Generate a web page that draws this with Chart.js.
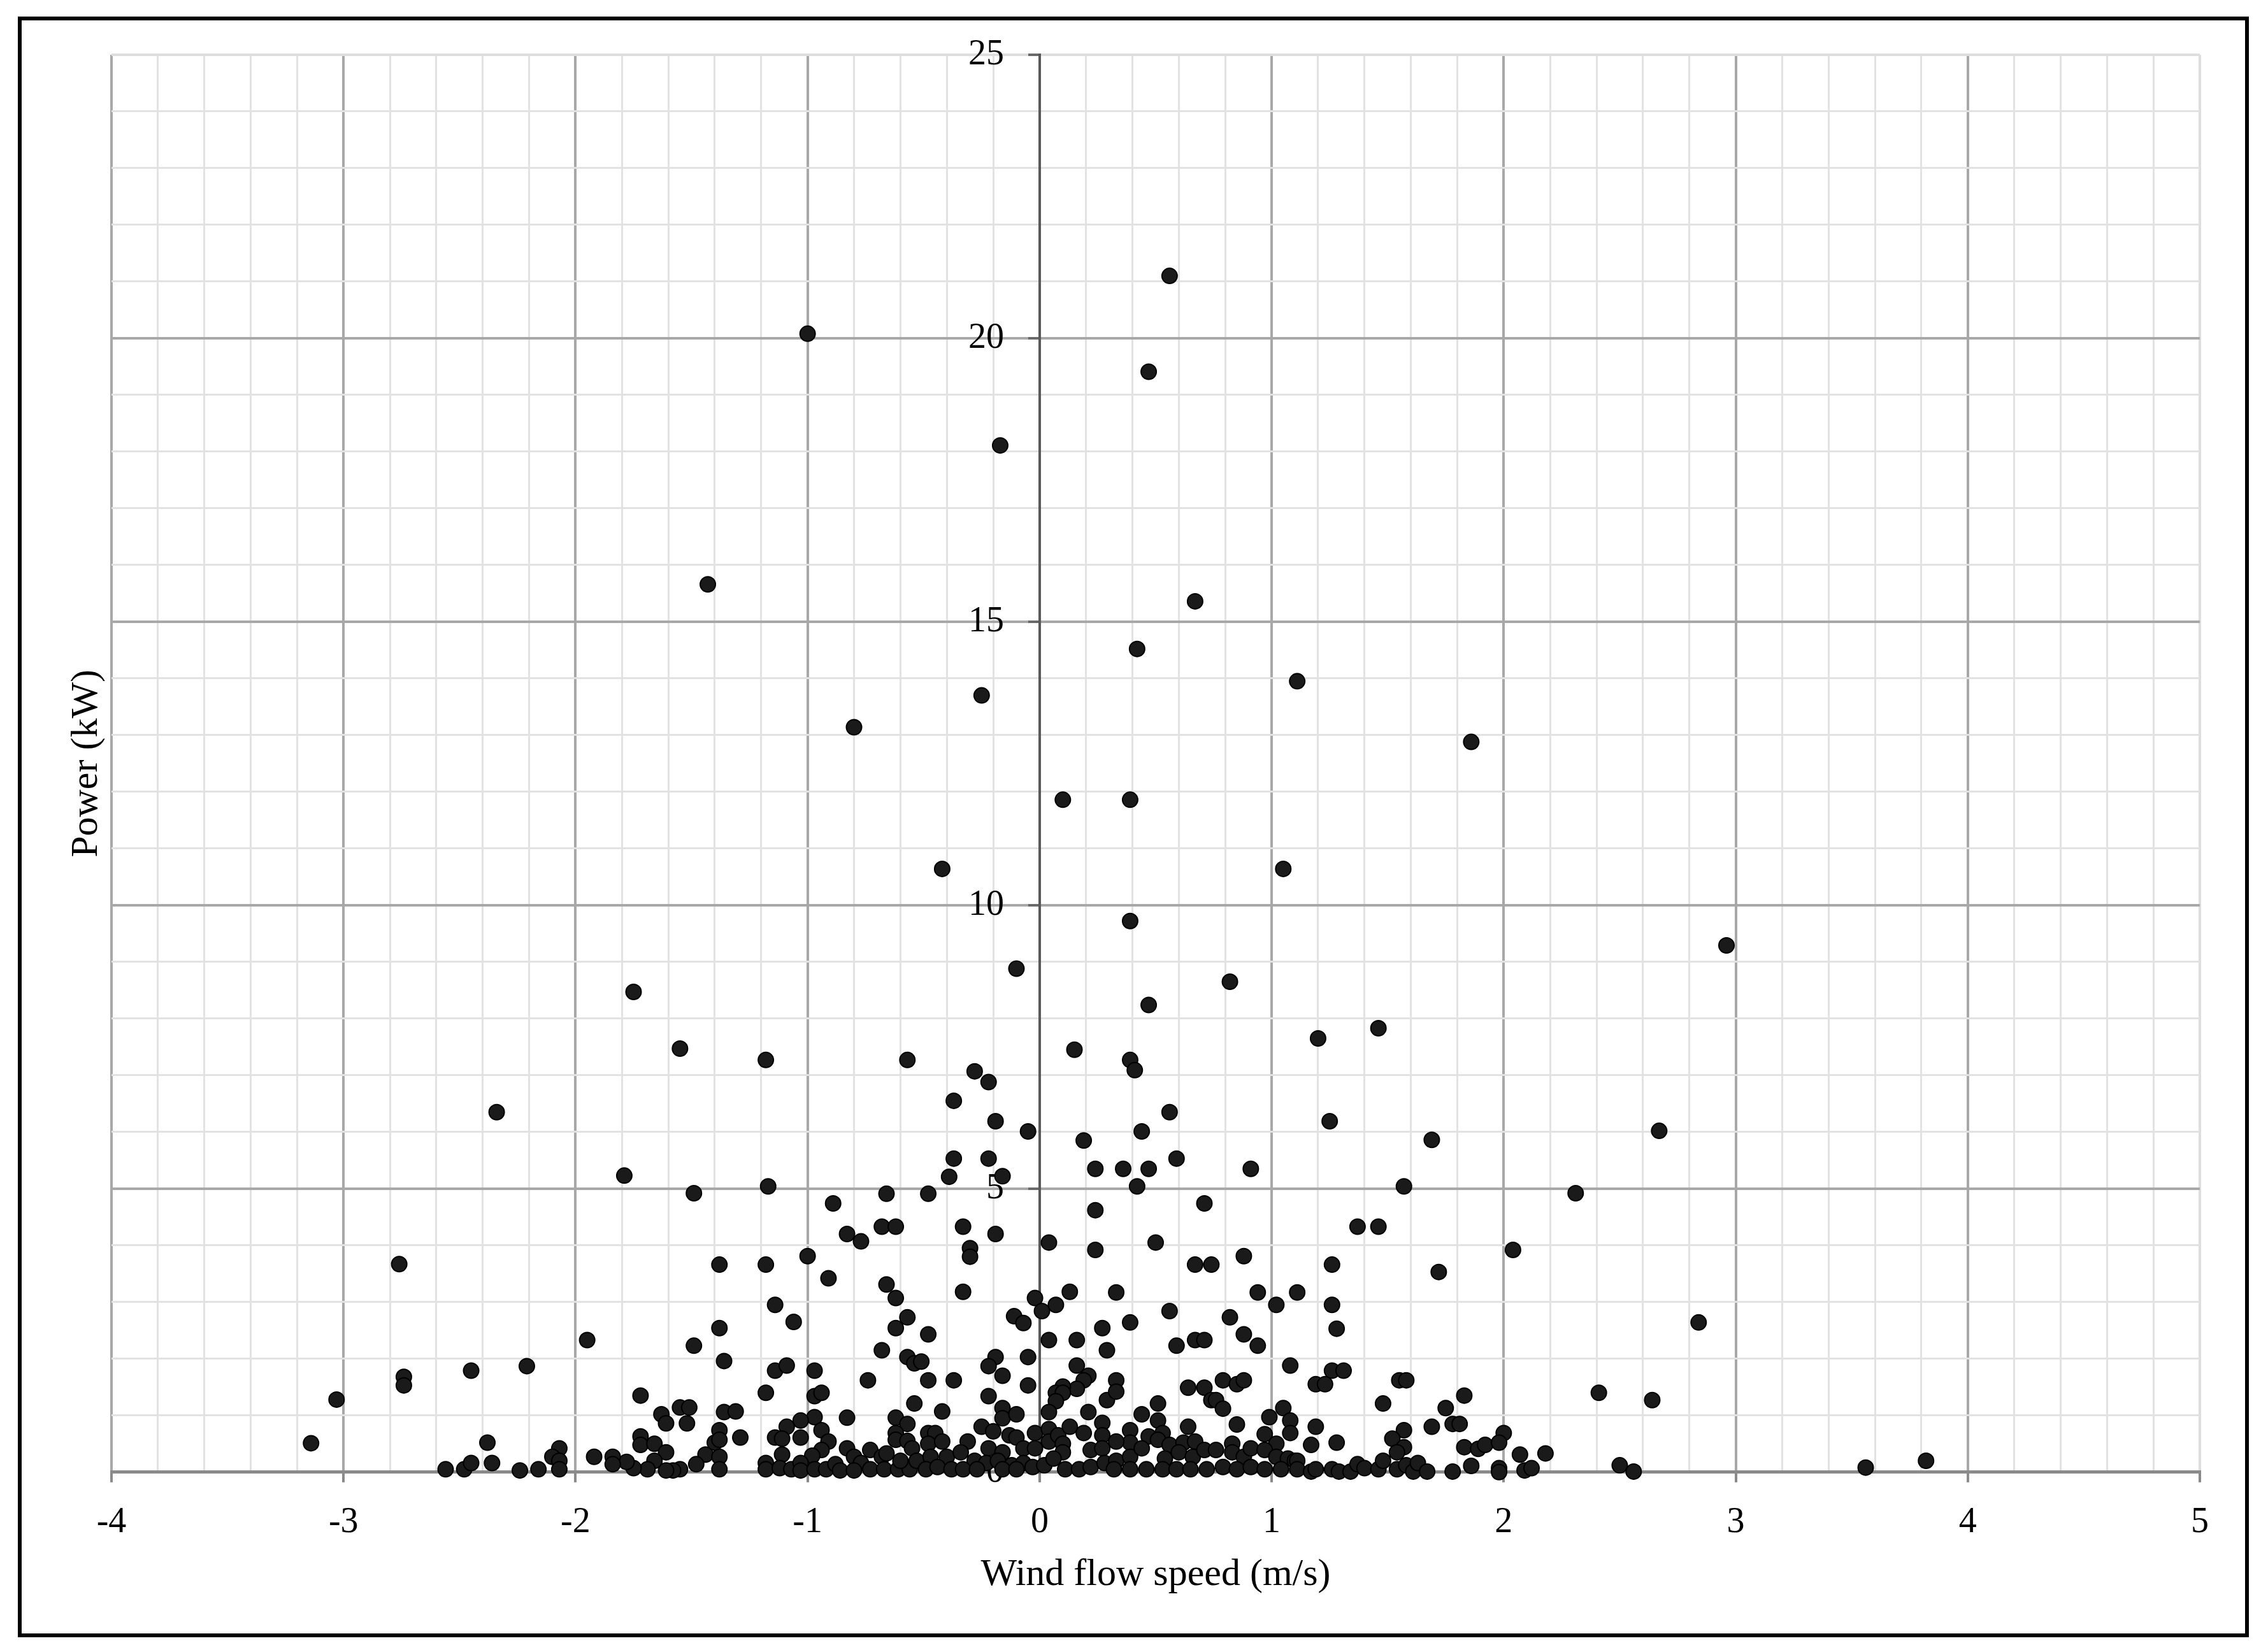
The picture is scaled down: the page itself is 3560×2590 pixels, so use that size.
<!DOCTYPE html>
<html>
<head>
<meta charset="utf-8">
<title>Wind flow speed vs power</title>
<script src="https://cdn.jsdelivr.net/npm/chart.js"></script>
<style>
  html, body { margin: 0; padding: 0; background: #fff; }
  #wrap { position: relative; width: 3560px; height: 2590px; }
  #frame { position: absolute; left: 28px; top: 26px; width: 3490px; height: 2532px; border: 6px solid #000; pointer-events: none; }
</style>
</head>
<body>
<div id="wrap">
  <canvas id="powerChart" width="3560" height="2590"></canvas>
  <div id="frame"></div>
</div>
<script>
// tick labels
var xTicks = [-4, -3, -2, -1, 0, 1, 2, 3, 4, 5];
var yTicks = [0, 5, 10, 15, 20, 25];

// wind flow speed (m/s)
var windSpeed = [
  // upper scatter
  -1.00,0.56,0.47,-0.17,-1.43,0.67,0.42,-0.25,1.11,-0.80,
  1.86,0.10,0.39,-0.42,1.05,0.39,2.96,-0.10,0.82,-1.75,
  0.47,1.46,1.20,-1.55,0.15,-1.18,-0.57,0.39,0.41,-0.28,
  -0.22,-0.37,-2.34,0.56,-0.19,1.25,-0.05,0.44,2.67,0.19,
  1.69,-0.37,-0.22,0.59,0.24,0.36,0.47,0.91,-0.39,-1.79,
  -0.16,0.42,-1.17,1.57,-0.48,-1.49,-0.66,2.31,-0.89,0.71,
  0.24,1.37,1.46,-0.68,-0.62,-0.33,-0.83,-0.77,-0.19,0.04,
  0.50,2.04,
  // far left
  -3.14,-3.03,-2.76,-2.74,-2.74,-2.45,-2.56,-2.48,-2.45,-2.38,-2.36,
  -1.38,-1.38,-2.21,-1.95,-1.49,-1.36,-1.72,-1.55,-1.51,-1.63,
  -1.61,-1.52,-1.36,-1.72,-1.72,-1.66,-1.61,-1.38,-1.40,-1.38,
  -1.44,-1.38,-1.38,-1.48,-1.55,-1.58,-1.61,-1.66,-1.69,-1.75,
  -1.78,-1.84,-1.84,-1.92,-2.07,-2.10,-2.07,-2.07,-2.16,-2.24,
  // -1.3 .. -0.55
  -1.18,-1.00,-0.91,-0.66,-0.62,-0.57,-0.62,-0.68,-0.57,-0.54,
  -1.14,-1.06,-1.14,-1.09,-0.97,-1.18,-0.97,-0.94,-0.74,-0.54,
  -1.31,-0.83,-0.62,-0.57,-0.62,-0.62,-0.57,-0.55,-0.97,-1.03,
  -1.09,-1.14,-1.11,-1.03,-0.94,-0.91,-0.94,-0.98,-1.29,-0.83,
  -0.80,-0.73,-0.68,-0.66,-0.77,-1.18,-1.18,-1.11,-1.12,-1.07,
  -1.03,-1.03,-0.97,-0.92,-0.88,-0.86,-0.80,-0.73,-0.67,-0.61,
  -0.56,-0.60,
  // -0.55 .. 0.3
  -0.30,-0.30,0.24,-0.33,-0.48,-0.51,-0.48,-0.37,-0.42,-0.11,
  -0.07,-0.02,0.01,0.07,0.13,0.04,0.16,0.27,0.29,-0.19,
  -0.22,-0.16,-0.05,-0.05,-0.22,0.16,0.21,0.19,0.16,0.10,
  0.07,0.10,0.07,0.04,0.21,0.29,-0.16,-0.16,-0.10,-0.25,
  -0.20,-0.13,-0.10,-0.02,0.04,0.04,0.08,0.13,0.19,0.27,
  0.27,-0.48,-0.45,-0.48,-0.42,-0.31,-0.22,-0.16,-0.07,-0.02,
  0.10,0.10,0.22,0.27,-0.53,-0.47,-0.40,-0.34,-0.28,-0.23,
  -0.18,-0.12,-0.07,-0.03,0.02,0.06,0.11,0.17,0.22,0.28,
  -0.49,-0.44,-0.38,-0.33,-0.27,-0.16,-0.10,
  // 0.3 .. 1.1
  0.67,0.74,0.88,0.33,0.56,0.39,0.59,0.67,0.71,0.82,
  0.88,0.94,0.94,1.02,1.11,1.08,0.33,0.33,0.51,0.51,
  0.44,0.64,0.71,0.74,0.76,0.79,0.79,0.85,0.88,0.85,
  0.64,0.99,1.05,1.08,1.08,0.97,0.39,0.39,0.47,0.53,
  0.51,0.56,0.62,0.67,0.83,1.02,0.33,0.33,0.39,0.44,
  0.54,0.60,0.66,0.71,0.76,0.83,0.88,0.91,0.97,1.02,
  1.07,1.10,0.32,0.39,0.46,0.53,0.59,0.65,0.72,0.79,
  0.85,0.91,0.97,1.04,
  // 1.1 .. 1.95
  1.26,1.26,1.28,1.72,1.26,1.31,1.19,1.23,1.55,1.58,
  1.48,1.83,1.75,1.78,1.81,1.69,1.57,1.52,1.57,1.54,
  1.83,1.89,1.92,1.86,1.78,1.19,1.17,1.28,1.11,1.11,
  1.17,1.19,1.26,1.29,1.34,1.37,1.40,1.46,1.48,1.54,
  1.58,1.61,1.63,1.67,
  // far right
  2.84,2.41,2.64,2.00,1.98,2.07,2.18,1.98,1.98,2.09,
  2.12,2.50,2.56,3.56,3.82
];

// power (kW), same order as windSpeed
var power = [
  20.08,21.10,19.41,18.11,15.66,15.36,14.52,13.70,13.95,13.14,
  12.88,11.86,11.86,10.64,10.64,9.72,9.29,8.88,8.65,8.47,
  8.24,7.83,7.65,7.47,7.45,7.27,7.27,7.27,7.09,7.07,
  6.88,6.55,6.35,6.35,6.19,6.19,6.01,6.01,6.02,5.85,
  5.86,5.53,5.53,5.53,5.35,5.35,5.35,5.35,5.21,5.23,
  5.22,5.04,5.04,5.04,4.91,4.92,4.91,4.92,4.74,4.74,
  4.62,4.33,4.33,4.33,4.33,4.33,4.20,4.07,4.20,4.05,
  4.05,3.92,

  0.51,1.28,3.67,1.68,1.53,1.79,0.05,0.05,0.16,0.52,0.16,
  3.66,2.54,1.87,2.33,2.23,1.96,1.35,1.14,1.14,1.02,
  0.86,0.86,1.06,0.63,0.48,0.50,0.35,0.74,0.52,0.57,
  0.31,0.27,0.05,0.14,0.05,0.03,0.03,0.20,0.05,0.07,
  0.18,0.27,0.14,0.27,0.42,0.27,0.20,0.05,0.05,0.03,

  3.66,3.81,3.42,3.31,3.07,2.73,2.54,2.15,2.03,1.92,
  2.95,2.65,1.79,1.88,1.79,1.40,1.34,1.40,1.62,1.21,
  1.07,0.96,0.96,0.85,0.69,0.57,0.55,0.42,0.97,0.91,
  0.80,0.61,0.59,0.61,0.74,0.54,0.39,0.29,0.61,0.42,
  0.27,0.39,0.27,0.33,0.16,0.16,0.05,0.31,0.07,0.05,
  0.16,0.03,0.05,0.05,0.14,0.03,0.03,0.05,0.05,0.05,
  0.05,0.20,

  3.95,3.80,3.92,3.18,2.43,1.95,1.62,1.62,1.07,2.75,
  2.63,3.07,2.84,2.95,3.18,2.33,2.33,2.54,2.15,2.03,
  1.87,1.70,2.03,1.53,1.34,1.88,1.70,1.62,1.47,1.51,
  1.40,1.40,1.25,1.06,1.06,1.27,1.13,0.95,1.02,0.80,
  0.72,0.65,0.61,0.69,0.76,0.54,0.65,0.80,0.69,0.87,
  0.65,0.69,0.69,0.50,0.54,0.54,0.42,0.35,0.42,0.42,
  0.50,0.35,0.39,0.42,0.20,0.27,0.27,0.35,0.20,0.16,
  0.20,0.12,0.16,0.09,0.12,0.24,0.05,0.05,0.09,0.16,
  0.05,0.09,0.05,0.05,0.05,0.05,0.05,

  3.66,3.66,3.81,3.17,2.84,2.64,2.23,2.33,2.33,2.73,
  2.43,2.23,3.17,2.95,3.17,1.88,1.62,1.42,1.21,0.91,
  1.02,1.49,1.49,1.27,1.27,1.12,1.62,1.55,1.62,0.84,
  0.80,0.97,1.13,0.91,0.69,0.67,0.74,0.52,0.63,0.69,
  0.57,0.48,0.52,0.54,0.50,0.50,0.54,0.20,0.27,0.42,
  0.24,0.35,0.27,0.39,0.39,0.35,0.27,0.42,0.39,0.27,
  0.24,0.20,0.05,0.05,0.05,0.05,0.05,0.05,0.05,0.09,
  0.05,0.09,0.05,0.05,

  3.66,2.95,2.53,3.53,1.79,1.79,1.55,1.55,1.62,1.62,
  1.21,1.35,1.13,0.85,0.85,0.80,0.74,0.59,0.44,0.35,
  0.44,0.41,0.48,0.11,0.01,0.80,0.48,0.52,0.20,0.05,
  0.01,0.05,0.05,0.01,0.01,0.14,0.07,0.05,0.20,0.05,
  0.12,0.01,0.16,0.01,

  2.64,1.40,1.27,0.69,0.52,0.31,0.33,0.07,0.00,0.03,
  0.07,0.12,0.01,0.08,0.20
];

var serif = '"Liberation Serif", "Times New Roman", serif';

function near(v, list) {
  for (var i = 0; i < list.length; i++) {
    if (Math.abs(v - list[i]) < 1e-6) return list[i];
  }
  return null;
}

var points = windSpeed.map(function (x, i) { return { x: x, y: power[i] }; });

var ctx = document.getElementById('powerChart').getContext('2d');
var chart = new Chart(ctx, {
  type: 'scatter',
  data: {
    datasets: [{
      label: 'Power',
      data: points,
      pointRadius: 12,
      pointHoverRadius: 12,
      pointBackgroundColor: '#1a1a1a',
      pointBorderColor: '#000',
      pointBorderWidth: 2,
      clip: false
    }]
  },
  options: {
    responsive: false,
    animation: false,
    events: [],
    layout: { padding: { left: 40, right: 107, top: 86, bottom: 100 } },
    plugins: {
      legend: { display: false },
      tooltip: { enabled: false },
      title: {
        display: true,
        position: 'left',
        fullSize: false,
        text: 'Power (kW)',
        color: '#000',
        font: { family: serif, size: 60, weight: 'normal' },
        padding: { top: 60, bottom: 3 }
      }
    },
    scales: {
      x: {
        type: 'linear',
        position: 'bottom',
        min: -4,
        max: 5,
        ticks: {
          stepSize: 0.2,
          autoSkip: false,
          maxRotation: 0,
          padding: 30,
          color: '#000',
          font: { family: serif, size: 56 },
          callback: function (v) {
            var t = near(v, xTicks);
            return t === null ? '' : String(t);
          }
        },
        grid: {
          z: -1,
          tickLength: 16,
          color: function (c) {
            var v = c.tick.value;
            if (Math.abs(v) < 1e-6) return '#5a5a5a';
            if (Math.abs(v - 5) < 1e-6) return '#dedede';
            return near(v, xTicks) !== null ? '#a8a8a8' : '#e2e2e2';
          },
          lineWidth: function (c) {
            return near(c.tick.value, xTicks) !== null ? 4 : 3;
          },
          tickColor: function (c) {
            return near(c.tick.value, xTicks) !== null ? '#8a8a8a' : 'rgba(0,0,0,0)';
          }
        },
        border: { color: '#8a8a8a', width: 5 },
        title: {
          display: true,
          text: 'Wind flow speed (m/s)',
          color: '#000',
          font: { family: serif, size: 60, lineHeight: 0.6 },
          padding: 0
        }
      },
      y: {
        type: 'linear',
        position: { x: 0 },
        min: 0,
        max: 25,
        ticks: {
          stepSize: 1,
          autoSkip: false,
          color: '#000',
          font: { family: serif, size: 56 },
          callback: function (v) {
            var t = near(v, yTicks);
            return t === null ? '' : String(t) + '\u2003';
          }
        },
        grid: {
          z: -1,
          tickLength: 16,
          color: function (c) {
            var v = c.tick.value;
            if (Math.abs(v) < 1e-6) return '#8a8a8a';
            if (Math.abs(v - 25) < 1e-6) return '#dedede';
            return near(v, yTicks) !== null ? '#a8a8a8' : '#e2e2e2';
          },
          lineWidth: function (c) {
            var v = c.tick.value;
            if (Math.abs(v) < 1e-6) return 5;
            return near(v, yTicks) !== null ? 4 : 3;
          },
          tickColor: function (c) {
            return near(c.tick.value, yTicks) !== null ? '#6a6a6a' : 'rgba(0,0,0,0)';
          }
        },
        border: { color: '#5a5a5a', width: 4 }
      }
    }
  }
});
</script>
</body>
</html>
